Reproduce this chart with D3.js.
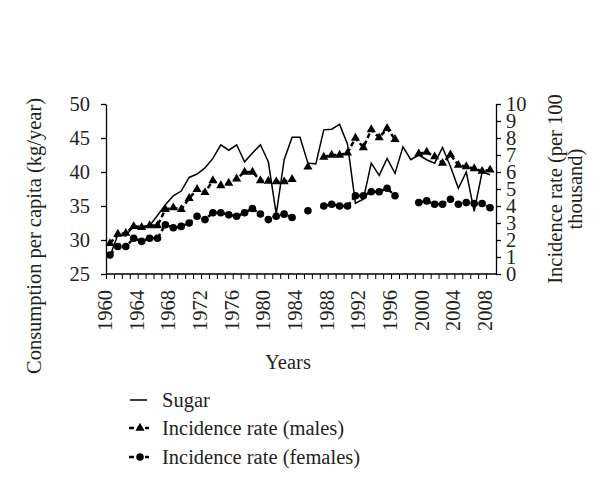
<!DOCTYPE html>
<html>
<head>
<meta charset="utf-8">
<script src="https://cdn.jsdelivr.net/npm/d3@7"></script>
<style>
    body { margin: 0; background: #fff; }
    text { font-family: "Liberation Serif", "Times New Roman", serif; fill: #231f20; }
</style>
</head>
<body>
<div id="chart"></div>
<script>
// data
var years = [1960, 1961, 1962, 1963, 1964, 1965, 1966, 1967, 1968, 1969,
    1970, 1971, 1972, 1973, 1974, 1975, 1976, 1977, 1978, 1979,
    1980, 1981, 1982, 1983, 1984, 1985, 1986, 1987, 1988, 1989,
    1990, 1991, 1992, 1993, 1994, 1995, 1996, 1997, 1998, 1999,
    2000, 2001, 2002, 2003, 2004, 2005, 2006, 2007, 2008];

var sugar = [27.6, 30.8, 30.6, 32.1, 31.9, 32.1, 33.6, 35.2, 36.5, 37.2,
    39.2, 39.7, 40.6, 42.0, 44.0, 43.2, 44.0, 41.5, 42.8, 44.0,
    41.5, 33.8, 41.8, 45.1, 45.1, 41.3, 41.2, 46.2, 46.3, 47.0,
    44.1, 35.4, 36.0, 41.3, 39.5, 42.0, 39.8, 43.7, 41.8, 42.5,
    41.8, 41.3, 43.6, 40.8, 37.6, 40.0, 34.2, 40.0, 39.6];

var males = [1.8, 2.35, 2.4, 2.8, 2.75, 2.85, 2.85, 3.8, 3.9, 3.8,
    4.45, 4.98, 4.8, 5.5, 5.2, 5.35, 5.6, 6.0, 6.0, 5.5,
    5.47, 5.43, 5.43, 5.57, null, 6.3, null, 6.88, 7.0, 7.0,
    7.12, 8.0, 7.44, 8.5, 8.02, 8.57, 7.92, null, null, 7.08,
    7.17, 6.9, 6.52, 7.02, 6.4, 6.32, 6.2, 6.05, 6.12];

var females = [1.12, 1.62, 1.62, 2.1, 1.92, 2.1, 2.1, 2.9, 2.72, 2.8,
    3.0, 3.4, 3.2, 3.6, 3.6, 3.48, 3.4, 3.6, 3.85, 3.53,
    3.2, 3.4, 3.52, 3.32, null, 3.72, null, 4.0, 4.1, 4.0,
    4.0, 4.6, 4.6, 4.84, 4.84, 5.04, 4.6, null, null, 4.2,
    4.3, 4.1, 4.1, 4.4, 4.1, 4.2, 4.15, 4.15, 3.9];

var leftTicks = [25, 30, 35, 40, 45, 50];
var rightTicks = [0, 1, 2, 3, 4, 5, 6, 7, 8, 9, 10];
var yearLabels = [1960, 1964, 1968, 1972, 1976, 1980, 1984, 1988, 1992, 1996, 2000, 2004, 2008];
var legendNames = ["Sugar", "Incidence rate (males)", "Incidence rate (females)"];

var width = 600, height = 487;
var plot = { left: 106, right: 496, top: 104, bottom: 274 };
var fontSize = 20.5;
var ink = "#000";

var svg = d3.select("#chart").append("svg")
    .attr("width", width)
    .attr("height", height);

// one slot per year, point in the middle of the slot
var x = d3.scaleLinear()
    .domain([years[0] - 0.5, years[years.length - 1] + 0.5])
    .range([plot.left, plot.right - 2]);
var yLeft = d3.scaleLinear().domain([25, 50]).range([plot.bottom, plot.top]);
var yRight = d3.scaleLinear().domain([0, 10]).range([plot.bottom, plot.top]);

// x axis: small tick at each slot border
var borders = years.map(function (d) { return d - 0.5; });
svg.append("g")
    .attr("transform", `translate(0, ${plot.bottom})`)
    .call(d3.axisBottom(x).tickValues(borders).tickSize(5).tickSizeOuter(0).tickFormat(""))
    .call(function (g) { g.select(".domain").remove(); })
    .selectAll("line").attr("stroke", ink).attr("stroke-width", 1);
svg.append("line")
    .attr("x1", plot.left).attr("x2", plot.right)
    .attr("y1", plot.bottom).attr("y2", plot.bottom)
    .attr("stroke", ink).attr("stroke-width", 1.3);

svg.append("g").selectAll("text")
    .data(yearLabels)
    .join("text")
    .attr("transform", function (d) { return `translate(${x(d) + 2}, 290) rotate(-90)`; })
    .attr("text-anchor", "end")
    .attr("font-size", fontSize)
    .text(function (d) { return d; });

// left axis
var gl = svg.append("g")
    .attr("transform", `translate(${plot.left}, 0)`)
    .call(d3.axisLeft(yLeft).tickValues(leftTicks).tickSize(5).tickSizeOuter(0).tickPadding(11));
gl.select(".domain").attr("stroke", ink).attr("stroke-width", 1.3);
gl.selectAll("line").attr("stroke", ink).attr("stroke-width", 1.3);
gl.selectAll("text").attr("font-size", fontSize).attr("font-family", null).attr("fill", null);

// right axis
var gr = svg.append("g")
    .attr("transform", `translate(${plot.right}, 0)`)
    .call(d3.axisRight(yRight).tickValues(rightTicks).tickSize(5).tickSizeOuter(0).tickPadding(5));
gr.select(".domain").attr("stroke", ink).attr("stroke-width", 1.3);
gr.selectAll("line").attr("stroke", ink).attr("stroke-width", 1.3);
gr.selectAll("text").attr("font-size", fontSize).attr("font-family", null).attr("fill", null);

// axis titles
svg.append("text")
    .attr("transform", "translate(41, 236) rotate(-90)")
    .attr("text-anchor", "middle")
    .attr("font-size", fontSize)
    .text("Consumption per capita (kg/year)");

var rt = svg.append("text")
    .attr("transform", "translate(562, 189) rotate(-90)")
    .attr("text-anchor", "middle")
    .attr("font-size", fontSize);
rt.append("tspan").attr("x", 0).attr("dy", 0).text("Incidence rate (per 100");
rt.append("tspan").attr("x", 0).attr("dy", "0.97em").text("thousand)");

svg.append("text")
    .attr("x", 288).attr("y", 369)
    .attr("text-anchor", "middle")
    .attr("font-size", fontSize)
    .text("Years");

// series
var rows = years.map(function (d, i) {
    return { year: d, sugar: sugar[i], males: males[i], females: females[i] };
});

var dashStyle = "fill: none; stroke: #000; stroke-width: 2.5; stroke-dasharray: 5 3;";

svg.append("path")
    .datum(rows)
    .attr("style", dashStyle)
    .attr("d", d3.line()
        .defined(function (d) { return d.males != null; })
        .x(function (d) { return x(d.year); })
        .y(function (d) { return yRight(d.males); }));

svg.append("path")
    .datum(rows)
    .attr("style", dashStyle)
    .attr("d", d3.line()
        .defined(function (d) { return d.females != null; })
        .x(function (d) { return x(d.year); })
        .y(function (d) { return yRight(d.females); }));

var triangle = d3.symbol(d3.symbolTriangle).size(36);

svg.append("g").selectAll("path")
    .data(rows.filter(function (d) { return d.males != null; }))
    .join("path")
    .attr("d", triangle)
    .attr("fill", ink)
    .attr("transform", function (d) { return `translate(${x(d.year)}, ${yRight(d.males)})`; });

svg.append("g").selectAll("circle")
    .data(rows.filter(function (d) { return d.females != null; }))
    .join("circle")
    .attr("r", 3.8)
    .attr("fill", ink)
    .attr("cx", function (d) { return x(d.year); })
    .attr("cy", function (d) { return yRight(d.females); });

svg.append("path")
    .datum(rows)
    .attr("fill", "none")
    .attr("stroke", ink)
    .attr("stroke-width", 1.5)
    .attr("stroke-linejoin", "miter")
    .attr("d", d3.line()
        .x(function (d) { return x(d.year); })
        .y(function (d) { return yLeft(d.sugar); }));

// legend
var legendY = [400, 428, 457];
var lg = svg.append("g");
lg.append("line")
    .attr("x1", 130).attr("x2", 147)
    .attr("y1", legendY[0]).attr("y2", legendY[0])
    .attr("stroke", ink).attr("stroke-width", 1.5);
[1, 2].forEach(function (k) {
    lg.append("line")
        .attr("x1", 129).attr("x2", 149)
        .attr("y1", legendY[k]).attr("y2", legendY[k])
        .attr("style", dashStyle);
});
lg.append("path")
    .attr("d", triangle)
    .attr("fill", ink)
    .attr("transform", `translate(140, ${legendY[1]})`);
lg.append("circle")
    .attr("r", 3.8)
    .attr("fill", ink)
    .attr("cx", 140).attr("cy", legendY[2]);

lg.selectAll("text")
    .data(legendNames)
    .join("text")
    .attr("x", 162)
    .attr("y", function (d, i) { return legendY[i]; })
    .attr("dy", "0.33em")
    .attr("font-size", fontSize)
    .text(function (d) { return d; });
</script>
</body>
</html>
